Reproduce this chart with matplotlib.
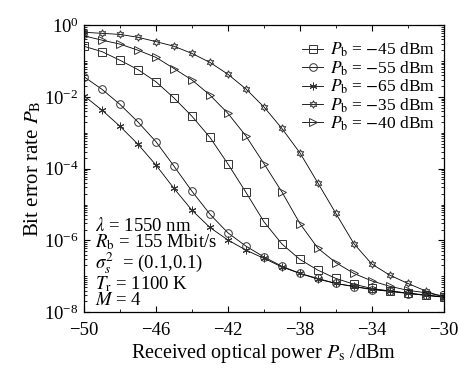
import matplotlib
matplotlib.use("Agg")
import matplotlib.pyplot as plt
from matplotlib.ticker import LogLocator, NullFormatter, FixedLocator, MultipleLocator

plt.rcParams['font.family'] = ['Liberation Serif', 'DejaVu Serif']
plt.rcParams['mathtext.fontset'] = 'stix'

# received optical power (dBm)
power = list(range(-50, -29))

# log10 of bit error rate
ber_m45 = [-0.59, -0.74, -0.98, -1.24, -1.58, -2.03, -2.54, -3.13, -3.87, -4.66,
           -5.48, -6.10, -6.53, -6.83, -7.06, -7.22, -7.34, -7.41, -7.47, -7.52, -7.58]
ber_m55 = [-1.44, -1.79, -2.21, -2.70, -3.25, -3.93, -4.63, -5.27, -5.79, -6.16,
           -6.46, -6.72, -6.92, -7.06, -7.20, -7.29, -7.37, -7.42, -7.48, -7.53, -7.58]
ber_m65 = [-1.97, -2.37, -2.82, -3.32, -3.90, -4.55, -5.16, -5.64, -5.99, -6.27,
           -6.50, -6.74, -6.92, -7.08, -7.20, -7.28, -7.36, -7.41, -7.47, -7.53, -7.58]
ber_m35 = [-0.20, -0.23, -0.26, -0.34, -0.46, -0.59, -0.79, -1.04, -1.37, -1.78,
           -2.28, -2.88, -3.56, -4.40, -5.25, -6.09, -6.66, -6.97, -7.20, -7.41, -7.59]
ber_m40 = [-0.30, -0.42, -0.53, -0.70, -0.90, -1.21, -1.53, -1.95, -2.46, -3.09,
           -3.86, -4.65, -5.53, -6.22, -6.62, -6.92, -7.13, -7.28, -7.39, -7.46, -7.55]

series = [
    (ber_m45, 's', r'$P_{\rm b}$ = $-$45 dBm'),
    (ber_m55, 'o', r'$P_{\rm b}$ = $-$55 dBm'),
    (ber_m65, (6, 2, 0), r'$P_{\rm b}$ = $-$65 dBm'),
    (ber_m35, (6, 1, 0), r'$P_{\rm b}$ = $-$35 dBm'),
    (ber_m40, '>', r'$P_{\rm b}$ = $-$40 dBm'),
]

fig = plt.figure(figsize=(4.59, 3.69), dpi=100)
ax = fig.add_axes([0.183, 0.154, 0.784, 0.778])

for vals, mk, lab in series:
    ax.plot(power, [10 ** v for v in vals], color='black', linewidth=0.6,
            marker=mk, markersize=5.5, markerfacecolor='none',
            markeredgecolor='#333333', markeredgewidth=0.7, label=lab)

ax.set_yscale('log')
ax.set_xlim(-50, -30)
ax.set_ylim(1e-8, 1e0)
ax.xaxis.set_major_locator(FixedLocator([-50, -46, -42, -38, -34, -30]))
ax.xaxis.set_minor_locator(MultipleLocator(2))
ax.yaxis.set_major_locator(FixedLocator([1e0, 1e-2, 1e-4, 1e-6, 1e-8]))
ax.yaxis.set_minor_locator(LogLocator(base=10, subs=range(1, 10), numticks=20))
ax.yaxis.set_minor_formatter(NullFormatter())
ax.set_xticklabels(['\u221250', '\u221246', '\u221242', '\u221238', '\u221234', '\u221230'])
ax.tick_params(which='both', direction='in', top=True, right=True, labelsize=13.5)
ax.tick_params(axis='x', pad=7)
ax.tick_params(axis='y', pad=4)
ax.tick_params(which='major', length=4, width=0.8)
ax.tick_params(which='minor', length=2, width=0.6)
for s in ax.spines.values():
    s.set_linewidth(0.9)

ax.set_xlabel(r'Received optical power $P_{\rm s}$ /dBm', fontsize=14.5, labelpad=2)
ax.set_ylabel(r'Bit error rate $P_{\rm B}$', fontsize=15, labelpad=0)

ax.legend(loc='upper right', bbox_to_anchor=(1.0, 0.975), frameon=False,
          fontsize=12.5, handlelength=1.2, handletextpad=0.4,
          labelspacing=0.0, borderaxespad=0.1)

ax.text(0.03, 0.01,
        '$\\lambda$ = 1550 nm\n$R_{\\rm b}$ = 155 Mbit/s\n'
        '$\\sigma_s^2$  = (0.1,0.1)\n$T_{\\rm r}$ = 1100 K\n$M$ = 4',
        transform=ax.transAxes, fontsize=13.5, linespacing=0.88,
        ha='left', va='bottom')

fig.savefig('out.png', dpi=100)
